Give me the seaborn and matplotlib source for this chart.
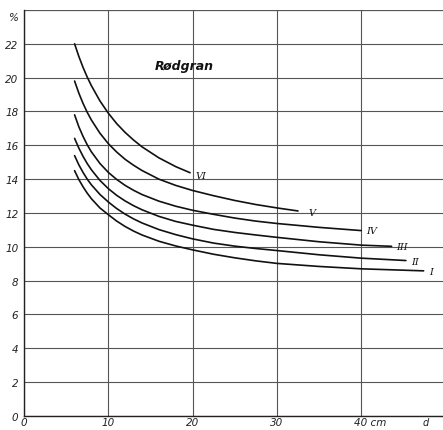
import numpy as np
import pandas as pd
import seaborn as sns
import matplotlib.pyplot as plt
import matplotlib.transforms as mtransforms

# diameter (cm) / percent points
d_vi = [6, 6.5, 7, 7.5, 8, 9, 10, 11, 12, 13, 14, 16, 18, 19.7]
p_vi = [22.0, 21.26, 20.61, 20.03, 19.52, 18.63, 17.9, 17.28, 16.76, 16.31, 15.91, 15.26, 14.74, 14.38]

d_v = [6, 6.5, 7, 7.5, 8, 9, 10, 11, 12, 13, 14, 16, 18, 20, 22.5, 25, 27.5, 30, 32.5]
p_v = [19.8, 19.09, 18.48, 17.95, 17.49, 16.72, 16.1, 15.6, 15.17, 14.82, 14.51, 14.0, 13.63, 13.33,
       13.02, 12.74, 12.5, 12.3, 12.12]

d_iv = [6, 6.5, 7, 7.5, 8, 9, 10, 11, 12, 13, 14, 16, 18, 20, 22.5, 25, 27.5, 30, 35, 40]
p_iv = [17.8, 17.1, 16.53, 16.03, 15.61, 14.93, 14.4, 13.98, 13.63, 13.34, 13.09, 12.7, 12.4, 12.16,
        11.92, 11.7, 11.52, 11.38, 11.15, 10.96]

d_iii = [6, 6.5, 7, 7.5, 8, 9, 10, 11, 12, 13, 14, 16, 18, 20, 22.5, 25, 27.5, 30, 35, 40, 43.6]
p_iii = [16.41, 15.84, 15.35, 14.92, 14.55, 13.93, 13.44, 13.04, 12.71, 12.43, 12.19, 11.8, 11.5, 11.28,
         11.03, 10.85, 10.7, 10.56, 10.3, 10.1, 10.03]

d_ii = [6, 6.5, 7, 7.5, 8, 9, 10, 11, 12, 13, 14, 16, 18, 20, 22.5, 25, 27.5, 30, 35, 40, 45.3]
p_ii = [15.39, 14.85, 14.4, 14.0, 13.66, 13.1, 12.65, 12.26, 11.93, 11.65, 11.41, 11.02, 10.72, 10.47,
        10.22, 10.04, 9.9, 9.78, 9.53, 9.33, 9.19]

d_i = [6, 6.5, 7, 7.5, 8, 9, 10, 11, 12, 13, 14, 16, 18, 20, 22.5, 25, 27.5, 30, 35, 40, 47.4]
p_i = [14.5, 13.98, 13.55, 13.17, 12.84, 12.3, 11.9, 11.52, 11.2, 10.93, 10.7, 10.33, 10.05, 9.82,
       9.56, 9.35, 9.17, 9.02, 8.84, 8.7, 8.58]

kurver = ["VI", "V", "IV", "III", "II", "I"]
xs = [d_vi, d_v, d_iv, d_iii, d_ii, d_i]
ys = [p_vi, p_v, p_iv, p_iii, p_ii, p_i]

rows = []
for k, x, y in zip(kurver, xs, ys):
    for a, b in zip(x, y):
        rows.append((k, a, b))
df = pd.DataFrame(rows, columns=["kurve", "d", "p"])

sns.set_theme(style="white")
plt.rcParams['font.family'] = ['DejaVu Sans']

fig = plt.figure(figsize=(4.43, 4.31), dpi=100)
ax = fig.add_axes([0.0542, 0.0325, 0.9458, 0.942])

sns.lineplot(data=df, x="d", y="p", hue="kurve", units="kurve", estimator=None,
             sort=False, palette=["#111111"] * 6, linewidth=1.2, legend=False, ax=ax)

ax.set_xlim(0, 49.7)
ax.set_ylim(0, 24)
ax.set_xticks([0, 10, 20, 30, 40])
ax.set_yticks(np.arange(0, 24, 2))
ax.set_xticklabels(["0", "10", "20", "30", "40 cm"])
ax.set_yticklabels([str(v) for v in range(0, 24, 2)])
ax.tick_params(length=0, labelsize=7.5, colors="#222222")
ax.tick_params(axis="y", pad=4)
ax.tick_params(axis="x", pad=1)
for lab in ax.get_xticklabels() + ax.get_yticklabels():
    lab.set_fontstyle("italic")
lab40 = ax.get_xticklabels()[-1]
lab40.set_ha("left")
lab40.set_transform(lab40.get_transform() + mtransforms.ScaledTranslation(-7 / 100, 0, fig.dpi_scale_trans))

ax.grid(True, color="#555555", linewidth=0.8)
ax.axhline(24, color="#555555", linewidth=0.9)
for s in ["top", "right"]:
    ax.spines[s].set_visible(False)
for s in ["left", "bottom"]:
    ax.spines[s].set_color("#222222")
    ax.spines[s].set_linewidth(1.0)

ax.set_xlabel("")
ax.set_ylabel("")

ax.text(-0.7, 23.6, "%", ha="right", va="center", fontsize=7.5, style="italic", color="#222222")
ax.text(47.6, -0.08, "d", ha="center", va="top", fontsize=7, style="italic", color="#222222")
ax.text(19.0, 20.7, "Rødgran", ha="center", va="center", fontsize=9, fontweight="bold",
        style="italic", color="#111111")

lab_pos = [(20.3, 14.2), (33.7, 12.05), (40.6, 10.95), (44.1, 10.02), (45.9, 9.15), (48.0, 8.55)]
for k, (x, y) in zip(kurver, lab_pos):
    ax.text(x, y, k, ha="left", va="center", fontsize=7, style="italic",
            family="DejaVu Serif", color="#111111")

fig.savefig("out.png", dpi=100)
